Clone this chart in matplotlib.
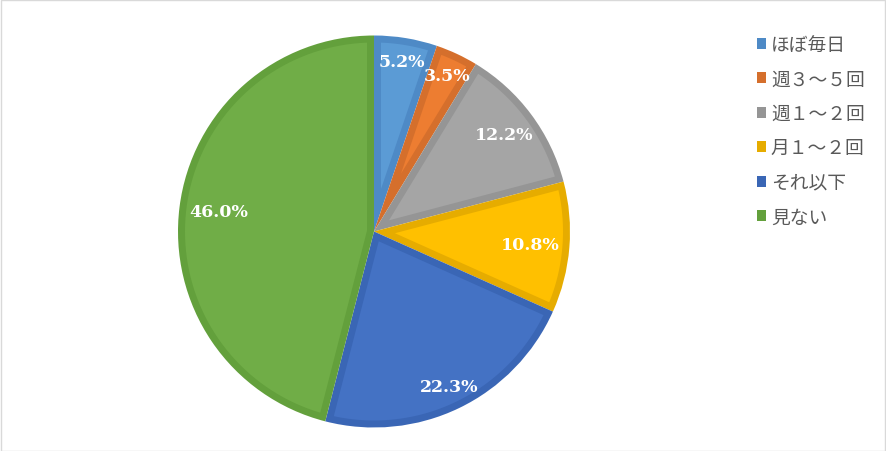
import matplotlib.pyplot as plt
import matplotlib.patches as mpatches
import numpy as np

# data
labels = ['ほぼ毎日', '週３～５回', '週１～２回', '月１～２回', 'それ以下', '見ない']
values = [5.2, 3.5, 12.2, 10.8, 22.3, 46.0]

fill_colors = ['#5B9BD5', '#ED7D31', '#A5A5A5', '#FFC000', '#4472C4', '#70AD47']
edge_colors = ['#4E8AC6', '#D56F2C', '#959595', '#E6AC00', '#3A66B5', '#63A03C']
label_dist = [0.88, 0.88, 0.83, 0.80, 0.88, 0.80]

W, H = 886, 452
fig = plt.figure(figsize=(W / 100, H / 100), dpi=100)
fig.patches.append(mpatches.Rectangle((0.5 / W, 0.5 / H), 1 - 1.5 / W, 1 - 1.5 / H,
                                      transform=fig.transFigure, fill=False,
                                      edgecolor='#D9D9D9', linewidth=1))

# pie centre at (374, 232.5) px, 1 data unit = 1 px
ax = fig.add_axes([174 / W, 19.5 / H, 400 / W, 400 / H])
R = 196
b = 7  # width of the darker border inside each slice
wedges, _ = ax.pie(values, colors=edge_colors, startangle=90, counterclock=False,
                   radius=R, wedgeprops=dict(linewidth=0))

# lighter inner part of each slice, inset by b
for w, fc in zip(wedges, fill_colors):
    t1, t2 = np.deg2rad(w.theta1), np.deg2rad(w.theta2)
    half = (t2 - t1) / 2
    mid = t1 + half
    r_in = R - b
    d = np.arcsin(b / r_in)
    s = b / np.sin(half) if half < np.pi / 2 else b
    ang = np.linspace(t1 + d, t2 - d, 80)
    pts = [(s * np.cos(mid), s * np.sin(mid))] + list(zip(r_in * np.cos(ang), r_in * np.sin(ang)))
    ax.add_patch(mpatches.Polygon(pts, closed=True, facecolor=fc, edgecolor='none'))

total = sum(values)
start = 90.0
for v, dist in zip(values, label_dist):
    m = np.deg2rad(start - v / total * 360 / 2)
    start -= v / total * 360
    ax.text(R * dist * np.cos(m), R * dist * np.sin(m), f'{v:.1f}%',
            ha='center', va='center', color='white', fontsize=12.5,
            fontweight='bold', family='DejaVu Serif')

ax.set_xlim(-200, 200)
ax.set_ylim(-200, 200)
ax.set_aspect('auto')
ax.axis('off')

handles = [mpatches.Patch(facecolor=c, edgecolor='none') for c in edge_colors]
leg = fig.legend(handles, labels, loc='upper left', bbox_to_anchor=(740 / W, 1 - 18 / H),
                 frameon=False, handlelength=0.5, handleheight=0.5, handletextpad=0.25,
                 labelspacing=0.72, prop={'family': ['Noto Sans CJK JP', 'DejaVu Sans'], 'size': 13.5})
for t in leg.get_texts():
    t.set_color('#595959')

fig.savefig('out.png', dpi=100)
